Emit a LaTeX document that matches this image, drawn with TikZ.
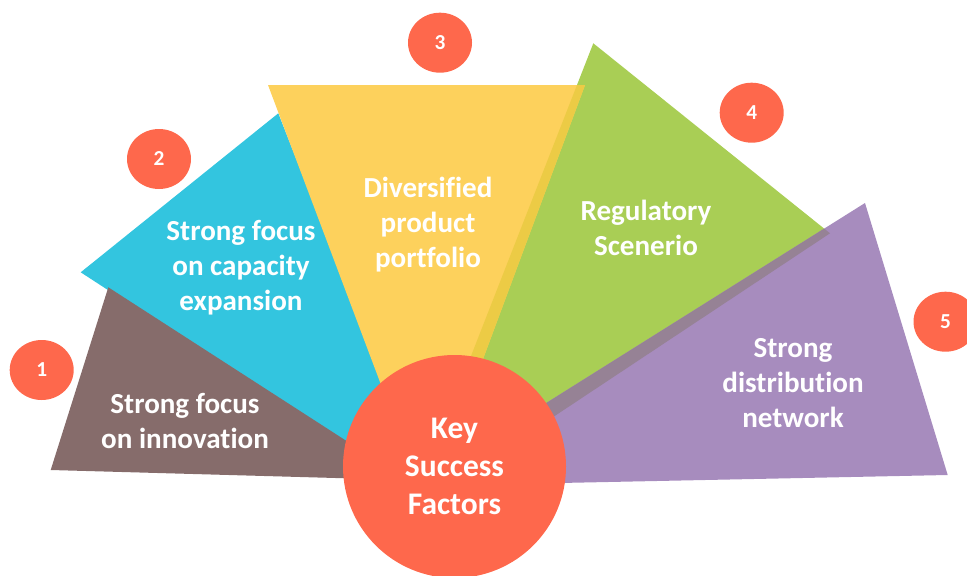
\documentclass[tikz,border=0pt]{standalone}
\usepackage{fontspec}
\setmainfont{Carlito}[Ligatures=NoCommon]
\usetikzlibrary{shapes.geometric}
\definecolor{cbrown}{HTML}{866C6B}
\definecolor{cblue}{HTML}{33C5DF}
\definecolor{cyellow}{HTML}{FDD15C}
\definecolor{cyelgreen}{HTML}{ECCB45}
\definecolor{cgreen}{HTML}{A9CE55}
\definecolor{cpurple}{HTML}{A78CBE}
\definecolor{cpurgreen}{HTML}{968295}
\definecolor{cred}{HTML}{FE684C}
\begin{document}
\begin{tikzpicture}[x=0.75pt,y=-0.75pt,
  lbl/.style={text=white,font=\fontsize{21.8}{26.25}\selectfont\bfseries,align=center,inner sep=0pt},
  badge/.style={ellipse,fill=cred,minimum width=48pt,minimum height=45pt,inner sep=0pt,
    text=white,font=\fontsize{16}{18}\selectfont\bfseries},
  keycirc/.style={circle,fill=cred,minimum size=167.25pt,inner sep=0pt,
    text=white,font=\fontsize{23.6}{28.5}\selectfont\bfseries,align=center}]
\useasboundingbox (0,0) rectangle (967,575);
% vertices
\coordinate (G1) at (593.3,43.3); \coordinate (G2) at (830,233.3); \coordinate (G3) at (410,512);
\coordinate (B1) at (80.7,272.3); \coordinate (B2) at (278.3,113.3); \coordinate (B3) at (430,499.4);
\coordinate (R1) at (108.3,287.3); \coordinate (R2) at (50.7,470); \coordinate (R3) at (407,480);
\coordinate (Y1) at (268,85); \coordinate (Y2) at (585,85); \coordinate (Y3) at (427.5,508);
\coordinate (P1) at (865,203); \coordinate (P2) at (947.7,475); \coordinate (P3) at (414,486);
% wedges
\fill[cgreen] (G1) -- (G2) -- (G3) -- cycle;
\fill[cblue] (B1) -- (B2) -- (B3) -- cycle;
\fill[cbrown] (R1) -- (R2) -- (R3) -- cycle;
\fill[cyellow] (Y1) -- (Y2) -- (Y3) -- cycle;
\begin{scope}
  \clip (G1) -- (G2) -- (G3) -- cycle;
  \fill[cyelgreen] (Y1) -- (Y2) -- (Y3) -- cycle;
\end{scope}
\fill[cpurple] (P1) -- (P2) -- (P3) -- cycle;
\begin{scope}
  \clip (G1) -- (G2) -- (G3) -- cycle;
  \fill[cpurgreen] (P1) -- (P2) -- (P3) -- cycle;
\end{scope}
% centre
\node[keycirc] (key) at (454.5,466.5) {Key\\Success\\Factors};
% labels
\node[lbl] (t1) at (185,421) {Strong focus\\on innovation};
\node[lbl] (t2) at (241,268) {Strong focus\\on capacity\\expansion};
\node[lbl] (t3) at (428,225) {Diversified\\product\\portfolio};
\node[lbl] (t4) at (646,227.5) {Regulatory\\Scenerio};
\node[lbl] (t5) at (793,383) {Strong\\distribution\\network};
% badges
\node[badge] (b1) at (41.7,370) {\raisebox{-2.2pt}{1}};
\node[badge] (b2) at (159,159) {\raisebox{-2.2pt}{2}};
\node[badge] (b3) at (440,42.7) {\raisebox{-2.2pt}{3}};
\node[badge] (b4) at (751.7,112.7) {\raisebox{-2.2pt}{4}};
\node[badge] (b5) at (945.5,321.7) {\raisebox{-2.2pt}{5}};
\end{tikzpicture}
\end{document}
